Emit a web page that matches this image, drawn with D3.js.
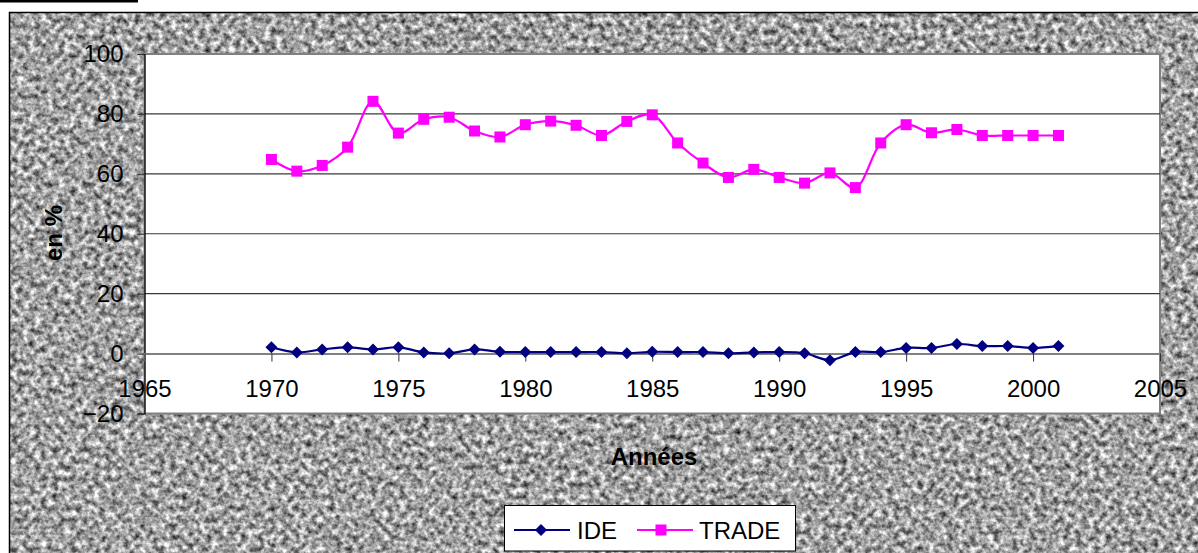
<!DOCTYPE html>
<html>
<head>
<meta charset="utf-8">
<script src="https://cdn.jsdelivr.net/npm/d3@7"></script>
<style>
  html, body { margin: 0; padding: 0; background: #ffffff; }
  svg { display: block; font-family: Arial, "Liberation Sans", sans-serif; }
</style>
</head>
<body>
<svg id="chart" width="1198" height="553"></svg>
<script>
// Years 1970–2001
const years = [1970,1971,1972,1973,1974,1975,1976,1977,1978,1979,1980,1981,1982,1983,1984,1985,
               1986,1987,1988,1989,1990,1991,1992,1993,1994,1995,1996,1997,1998,1999,2000,2001];
// Foreign direct investment, % of GDP
const ide = [2.1,0.4,1.4,2.1,1.4,2.1,0.4,0.1,1.4,0.6,0.5,0.5,0.5,0.5,0.1,0.6,
             0.5,0.5,0.1,0.4,0.5,0.1,-2.2,0.5,0.5,1.9,1.9,3.2,2.5,2.5,1.9,2.5];
// Trade openness, % of GDP
const trade = [64.8,60.9,62.8,68.9,84.2,73.6,78.2,78.9,74.3,72.3,76.4,77.6,76.2,72.8,77.5,79.7,
               70.3,63.6,58.8,61.5,58.8,56.9,60.3,55.4,70.3,76.4,73.7,74.8,72.8,72.8,72.8,72.8];
const xTicks = [1965,1970,1975,1980,1985,1990,1995,2000,2005];
const yTicks = [-20,0,20,40,60,80,100];
const seriesNames = ["IDE", "TRADE"];

const svg = d3.select("#chart");
const W = 1198, H = 553;

// Stone-textured backdrop
const defs = svg.append("defs");
const f = defs.append("filter").attr("id", "granite")
  .attr("x", 0).attr("y", 0).attr("width", "100%").attr("height", "100%")
  .attr("filterUnits", "objectBoundingBox")
  .attr("color-interpolation-filters", "sRGB");
f.append("feTurbulence").attr("type", "fractalNoise")
  .attr("baseFrequency", 0.17).attr("numOctaves", 3).attr("seed", 7).attr("result", "n");
f.append("feColorMatrix").attr("in", "n").attr("type", "matrix")
  .attr("values", "1.3 0 0 0 -0.02  1.3 0 0 0 -0.02  1.3 0 0 0 -0.02  0 0 0 0 1")
  .attr("result", "g");
f.append("feGaussianBlur").attr("in", "g").attr("stdDeviation", 0.6);

svg.append("rect").attr("x", 0).attr("y", 0).attr("width", 138).attr("height", 2.5).attr("fill", "#000");
svg.append("rect").attr("x", 9).attr("y", 12).attr("width", W).attr("height", H)
  .attr("fill", "#aaa").attr("filter", "url(#granite)");
svg.append("rect").attr("x", 9.5).attr("y", 12.5).attr("width", W).attr("height", H)
  .attr("fill", "none").attr("stroke", "#000").attr("stroke-width", 1.5);

// Plot area
const L = 144.5, R = 1160, T = 54, B = 413.5;
const x = d3.scaleLinear().domain([1965, 2005]).range([L, R]);
const y = d3.scaleLinear().domain([-20, 100]).range([B, T]);

svg.append("rect").attr("x", L).attr("y", T).attr("width", R - L).attr("height", B - T)
  .attr("fill", "#fff").attr("stroke", "#808080").attr("stroke-width", 2);

// Gridlines
svg.append("g").selectAll("line").data([20, 40, 60, 80]).join("line")
  .attr("x1", L).attr("x2", R).attr("y1", d => y(d)).attr("y2", d => y(d))
  .attr("stroke", "#3a3a3a").attr("stroke-width", 1.2);

// Y axis
const yAxis = svg.append("g").attr("transform", `translate(${L},0)`)
  .call(d3.axisLeft(y).tickValues(yTicks).tickSize(7).tickPadding(14).tickFormat(d3.format("d")));
yAxis.select(".domain").attr("stroke", "#000").attr("stroke-width", 1.2);
yAxis.selectAll(".tick line").attr("stroke", "#333");
yAxis.selectAll(".tick text").attr("font-size", 24).attr("fill", "#000")
  .attr("font-family", "Arial, 'Liberation Sans', sans-serif");

// X axis crossing at zero
const xAxis = svg.append("g").attr("transform", `translate(0,${y(0)})`)
  .call(d3.axisBottom(x).tickValues(xTicks).tickSize(8).tickPadding(18).tickFormat(d3.format("d")));
xAxis.select(".domain").attr("stroke", "#808080").attr("stroke-width", 2);
xAxis.selectAll(".tick line").attr("stroke", "#333");
xAxis.selectAll(".tick text").attr("font-size", 24).attr("fill", "#000")
  .attr("font-family", "Arial, 'Liberation Sans', sans-serif");

// Axis titles
svg.append("text").attr("x", 654).attr("y", 465).attr("text-anchor", "middle")
  .attr("font-size", 24).attr("font-weight", "bold").text("Années");
svg.append("text").attr("transform", "translate(62,233) rotate(-90)").attr("text-anchor", "middle")
  .attr("font-size", 24).attr("font-weight", "bold").text("en %");

// Series
const curve = d3.curveCatmullRom.alpha(0.5);
const line = vals => d3.line().x((d, i) => x(years[i])).y(d => y(d)).curve(curve)(vals);

svg.append("path").attr("d", line(trade)).attr("fill", "none")
  .attr("stroke", "#ff00ff").attr("stroke-width", 2.2);
svg.append("path").attr("d", line(ide)).attr("fill", "none")
  .attr("stroke", "#000080").attr("stroke-width", 2.2);

const sq = 11;
svg.append("g").selectAll("rect").data(trade).join("rect")
  .attr("x", (d, i) => x(years[i]) - sq / 2).attr("y", d => y(d) - sq / 2)
  .attr("width", sq).attr("height", sq).attr("fill", "#ff00ff");

const diamond = (cx, cy, r) => `M${cx},${cy - r}L${cx + r},${cy}L${cx},${cy + r}L${cx - r},${cy}Z`;
svg.append("g").selectAll("path").data(ide).join("path")
  .attr("d", (d, i) => diamond(x(years[i]), y(d), 6)).attr("fill", "#000080");

// Legend
const lg = svg.append("g");
lg.append("rect").attr("x", 504.5).attr("y", 505.5).attr("width", 291).attr("height", 45.5)
  .attr("fill", "#fff").attr("stroke", "#000").attr("stroke-width", 1);
const ly = 530;
lg.append("line").attr("x1", 514).attr("x2", 570).attr("y1", ly).attr("y2", ly)
  .attr("stroke", "#000080").attr("stroke-width", 2.2);
lg.append("path").attr("d", diamond(541, ly, 6)).attr("fill", "#000080");
lg.append("text").attr("x", 577).attr("y", ly + 9).attr("font-size", 24).text(seriesNames[0]);
lg.append("line").attr("x1", 637).attr("x2", 693).attr("y1", ly).attr("y2", ly)
  .attr("stroke", "#ff00ff").attr("stroke-width", 2.2);
lg.append("rect").attr("x", 661 - sq / 2).attr("y", ly - sq / 2).attr("width", sq).attr("height", sq)
  .attr("fill", "#ff00ff");
lg.append("text").attr("x", 699).attr("y", ly + 9).attr("font-size", 24).text(seriesNames[1]);
</script>
</body>
</html>
